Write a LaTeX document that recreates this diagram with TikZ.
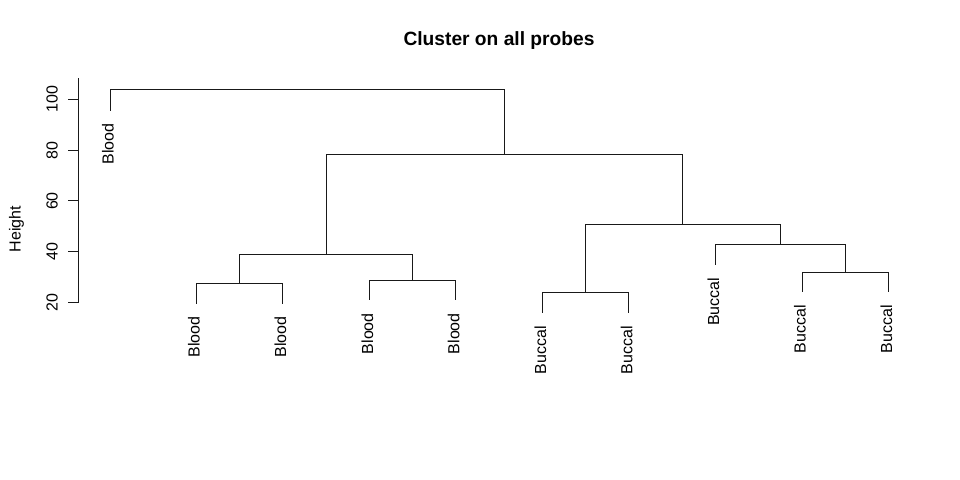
\documentclass[tikz,border=0pt]{standalone}
\usepackage{fontspec}
\setmainfont{Liberation Sans}
\begin{document}
\begin{tikzpicture}[x=1bp, y=-1bp,
  link/.style={line width=1bp, black!90},
  leaf/.style={rotate=90, anchor=east, inner sep=0pt, font=\fontsize{16bp}{19bp}\selectfont},
  ticklab/.style={rotate=90, anchor=base, inner sep=0pt, font=\fontsize{16bp}{19bp}\selectfont}]

\useasboundingbox (0,0) rectangle (960,480);

% Title
\node[anchor=base, inner sep=0pt, font=\fontsize{19.2bp}{23bp}\selectfont\bfseries] (title) at (499,46) {Cluster on all probes};

% Height axis with ticks
\draw[link] (78.3,78.3) -- (78.3,302.7);
\foreach \h in {20,40,...,100} {
  \coordinate (tick\h) at (78.3,{302.7-(\h-20)*2.5425});
  \draw[link] (tick\h) -- ++(-10,0);
  \node[ticklab] (ticklab\h) at (57.5,{302.7-(\h-20)*2.5425}) {\h};
}
\node[ticklab] (ylab) at (20.5,229) {Height};

% Leaf ends
\coordinate (l1) at (110,111);
\coordinate (l2) at (196,304);
\coordinate (l3) at (282.5,304);
\coordinate (l4) at (369.3,300.5);
\coordinate (l5) at (455.7,300.5);
\coordinate (l6) at (542.3,313.3);
\coordinate (l7) at (628.7,313.3);
\coordinate (l8) at (715.5,265);
\coordinate (l9) at (802,292.3);
\coordinate (l10) at (888.3,292.3);

% Merge points (x = middle of the two children, y = height)
\coordinate (m23) at (239.3,283.5);
\coordinate (m45) at (412.5,280.3);
\coordinate (m2345) at (326,254.3);
\coordinate (m67) at (585.5,292.7);
\coordinate (m910) at (845.2,272.3);
\coordinate (m8910) at (780.3,244.5);
\coordinate (m6to10) at (682.9,224.3);
\coordinate (m2to10) at (504.4,154.5);
\coordinate (root) at (307.2,90);

% Links
\draw[link] (root) -| (l1);
\draw[link] (root) -| (m2to10);
\draw[link] (m2to10) -| (m2345);
\draw[link] (m2to10) -| (m6to10);
\draw[link] (m2345) -| (m23);
\draw[link] (m2345) -| (m45);
\draw[link] (m23) -| (l2);
\draw[link] (m23) -| (l3);
\draw[link] (m45) -| (l4);
\draw[link] (m45) -| (l5);
\draw[link] (m6to10) -| (m67);
\draw[link] (m6to10) -| (m8910);
\draw[link] (m67) -| (l6);
\draw[link] (m67) -| (l7);
\draw[link] (m8910) -| (l8);
\draw[link] (m8910) -| (m910);
\draw[link] (m910) -| (l9);
\draw[link] (m910) -| (l10);

% Leaf labels
\node[leaf] (lab1) at ([shift={(-2,12.5)}]l1) {Blood};
\node[leaf] (lab2) at ([shift={(-2,12.5)}]l2) {Blood};
\node[leaf] (lab3) at ([shift={(-2,12.5)}]l3) {Blood};
\node[leaf] (lab4) at ([shift={(-2,12.5)}]l4) {Blood};
\node[leaf] (lab5) at ([shift={(-2,12.5)}]l5) {Blood};
\node[leaf] (lab6) at ([shift={(-2,12.5)}]l6) {Buccal};
\node[leaf] (lab7) at ([shift={(-2,12.5)}]l7) {Buccal};
\node[leaf] (lab8) at ([shift={(-2,12.5)}]l8) {Buccal};
\node[leaf] (lab9) at ([shift={(-2,12.5)}]l9) {Buccal};
\node[leaf] (lab10) at ([shift={(-2,12.5)}]l10) {Buccal};

\end{tikzpicture}
\end{document}
